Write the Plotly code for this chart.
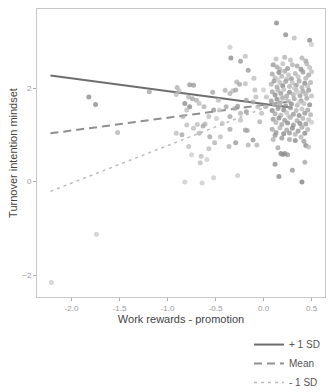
import plotly.graph_objects as go

# ---- data ----
# scatter points: x (work rewards - promotion), y (turnover intention), shade (moderator level, 0 light .. 1 dark)
pts = [
    (-2.21, -2.16, 0.2), (-1.74, -1.13, 0.2), (-1.82, 1.81, 0.7), (-1.75, 1.65, 0.7), (-1.52, 1.05, 0.4), (-1.19, 1.92, 0.5),
    (-0.90, 2.01, 0.4), (-0.88, 1.94, 0.3), (-0.91, 1.86, 0.3), (-0.77, 2.07, 0.6), (-0.73, 2.06, 0.6), (-0.82, 1.67, 0.7),
    (-0.78, 1.81, 0.4), (-0.74, 1.77, 0.5), (-0.70, 1.74, 0.4), (-0.77, 1.60, 0.7), (-0.80, 1.53, 0.3), (-0.67, 1.67, 0.3),
    (-0.62, 1.60, 0.4), (-0.53, 1.91, 0.5), (-0.52, 1.53, 0.6), (-0.47, 1.74, 0.3), (-0.40, 1.95, 0.4), (-0.35, 1.88, 0.4),
    (-0.32, 1.94, 0.3), (-0.29, 1.96, 0.5), (-0.25, 2.08, 0.5), (-0.19, 2.09, 0.3), (-0.09, 1.96, 0.3), (0.00, 1.96, 0.2),
    (-0.39, 1.60, 0.5), (-0.30, 1.56, 0.4), (-0.27, 1.61, 0.6), (-0.18, 1.74, 0.5), (-0.11, 1.70, 0.4), (-0.06, 1.60, 0.3),
    (-0.08, 1.81, 0.3), (-0.35, 1.39, 0.5), (-0.24, 1.46, 0.4), (-0.18, 1.49, 0.6), (-0.02, 1.46, 0.3), (-0.04, 1.28, 0.4),
    (-0.24, 1.31, 0.3), (-0.35, 1.12, 0.5), (-0.19, 1.10, 0.5), (-0.17, 1.09, 0.5), (-0.11, 0.89, 0.6), (-0.07, 0.78, 0.4),
    (-0.16, 0.78, 0.4), (-0.29, 0.83, 0.6), (-0.36, 0.75, 0.4), (-0.45, 0.96, 0.3), (-0.56, 0.96, 0.5), (-0.51, 0.83, 0.4),
    (-0.63, 1.19, 0.5), (-0.61, 1.23, 0.4), (-0.69, 1.22, 0.3), (-0.73, 1.14, 0.3), (-0.80, 1.21, 0.3), (-0.84, 1.39, 0.4),
    (-0.91, 1.03, 0.3), (-0.85, 1.00, 0.5), (-0.67, 1.03, 0.4), (-0.78, 0.75, 0.3), (-0.75, 0.57, 0.2), (-0.66, 0.40, 0.3),
    (-0.59, 0.47, 0.2), (-0.57, 0.70, 0.3), (-0.65, 0.54, 0.3), (-0.43, 1.24, 0.3), (-0.49, 1.35, 0.2), (-0.57, 1.39, 0.3),
    (-0.46, 1.53, 0.2), (-0.82, -0.01, 0.2), (-0.64, -0.03, 0.2), (-0.52, 0.08, 0.2), (-0.27, 0.13, 0.2),
    (-0.35, 2.87, 0.2), (-0.34, 2.64, 0.7), (-0.24, 2.57, 0.6), (-0.19, 2.68, 0.3), (-0.16, 2.38, 0.6), (-0.10, 2.21, 0.3),
    (-0.28, 2.13, 0.4), (0.03, 1.81, 0.3), (0.02, 1.60, 0.4),
    (0.135, 3.39, 0.7), (0.23, 3.14, 0.7), (0.32, 3.07, 0.3), (0.48, 3.02, 0.7), (0.50, 2.93, 0.2),
    (0.40, -0.01, 0.8), (0.16, 0.11, 0.7), (0.30, 0.24, 0.6), (0.12, 0.37, 0.7), (0.43, 0.41, 0.5), (0.18, 0.60, 0.7),
    (0.20, 0.58, 0.6), (0.22, 0.60, 0.7), (0.25, 0.57, 0.6), (0.44, 0.77, 0.7), (0.47, 0.74, 0.3), (0.15, 0.72, 0.5),
    (0.10, 0.90, 0.4), (0.12, 0.99, 0.6),
    (0.13, 2.62, 0.3), (0.22, 2.66, 0.4), (0.28, 2.60, 0.3), (0.40, 2.64, 0.4), (0.44, 2.58, 0.5),
    (0.10, 2.50, 0.6), (0.14, 2.45, 0.5), (0.20, 2.52, 0.3), (0.25, 2.42, 0.6), (0.30, 2.50, 0.4), (0.35, 2.47, 0.5),
    (0.39, 2.40, 0.7), (0.45, 2.52, 0.4), (0.48, 2.44, 0.3), (0.17, 2.40, 0.4),
    (0.09, 2.30, 0.5), (0.12, 2.22, 0.3), (0.16, 2.33, 0.7), (0.19, 2.25, 0.4), (0.22, 2.36, 0.5), (0.26, 2.28, 0.3),
    (0.29, 2.20, 0.6), (0.33, 2.31, 0.4), (0.36, 2.24, 0.3), (0.41, 2.34, 0.6), (0.44, 2.21, 0.4), (0.47, 2.28, 0.5),
    (0.50, 2.35, 0.3), (0.24, 2.18, 0.4),
    (0.08, 2.08, 0.4), (0.11, 2.15, 0.6), (0.14, 2.02, 0.5), (0.17, 2.12, 0.3), (0.20, 2.05, 0.7), (0.23, 2.14, 0.5),
    (0.27, 2.03, 0.4), (0.30, 2.11, 0.3), (0.34, 2.06, 0.6), (0.37, 2.15, 0.5), (0.40, 2.01, 0.4), (0.43, 2.10, 0.7),
    (0.46, 2.04, 0.3), (0.49, 2.12, 0.4), (0.15, 2.18, 0.2), (0.32, 2.00, 0.2),
    (0.09, 1.92, 0.5), (0.12, 1.85, 0.7), (0.15, 1.95, 0.4), (0.18, 1.88, 0.6), (0.21, 1.97, 0.3), (0.24, 1.83, 0.5),
    (0.27, 1.91, 0.7), (0.31, 1.86, 0.4), (0.34, 1.96, 0.3), (0.38, 1.84, 0.6), (0.41, 1.93, 0.5), (0.44, 1.87, 0.4),
    (0.47, 1.95, 0.6), (0.50, 1.83, 0.3), (0.19, 1.81, 0.2), (0.36, 1.90, 0.2),
    (0.08, 1.72, 0.6), (0.11, 1.65, 0.4), (0.14, 1.76, 0.7), (0.17, 1.68, 0.5), (0.20, 1.78, 0.4), (0.23, 1.62, 0.6),
    (0.26, 1.72, 0.3), (0.29, 1.66, 0.7), (0.32, 1.77, 0.5), (0.35, 1.63, 0.4), (0.39, 1.73, 0.6), (0.42, 1.67, 0.3),
    (0.45, 1.78, 0.5), (0.48, 1.64, 0.7), (0.16, 1.61, 0.3), (0.37, 1.69, 0.2),
    (0.09, 1.52, 0.7), (0.12, 1.45, 0.5), (0.15, 1.56, 0.6), (0.18, 1.42, 0.4), (0.21, 1.53, 0.7), (0.24, 1.47, 0.3),
    (0.28, 1.57, 0.5), (0.31, 1.44, 0.6), (0.34, 1.52, 0.4), (0.37, 1.41, 0.7), (0.40, 1.55, 0.3), (0.43, 1.46, 0.6),
    (0.46, 1.53, 0.5), (0.49, 1.43, 0.4), (0.26, 1.40, 0.2),
    (0.10, 1.33, 0.6), (0.13, 1.26, 0.4), (0.16, 1.36, 0.7), (0.19, 1.22, 0.5), (0.22, 1.31, 0.6), (0.25, 1.25, 0.7),
    (0.28, 1.37, 0.4), (0.31, 1.21, 0.6), (0.35, 1.30, 0.5), (0.38, 1.24, 0.7), (0.41, 1.35, 0.4), (0.44, 1.23, 0.6),
    (0.47, 1.32, 0.3), (0.50, 1.27, 0.2),
    (0.09, 1.12, 0.5), (0.13, 1.05, 0.6), (0.17, 1.15, 0.4), (0.21, 1.02, 0.7), (0.24, 1.10, 0.5), (0.27, 1.04, 0.6),
    (0.30, 1.14, 0.7), (0.33, 1.01, 0.4), (0.36, 1.08, 0.6), (0.40, 1.16, 0.5), (0.43, 1.03, 0.7), (0.46, 1.11, 0.4),
    (0.19, 0.93, 0.6), (0.27, 0.90, 0.5), (0.33, 0.88, 0.7), (0.39, 0.95, 0.4), (0.42, 0.86, 0.6),
]
x_vals = [p[0] for p in pts]
y_vals = [p[1] for p in pts]
shade = [p[2] for p in pts]

# simple slopes
line_x = [-2.22, 0.30]
plus1_y = [2.27, 1.58]
mean_y = [1.03, 1.72]
minus1_y = [-0.21, 1.81]
line_names = ["+ 1 SD", "Mean", "- 1 SD"]

x_ticks = [-2.0, -1.5, -1.0, -0.5, 0.0, 0.5]
x_tick_text = ["-2.0", "-1.5", "-1.0", "-0.5", "0.0", "0.5"]
y_ticks = [-2, 0, 2]

fig = go.Figure()

line_styles = [
    dict(color="#6e6e6e", width=2, dash="solid"),
    dict(color="#8f8f8f", width=2, dash="8px,5px"),
    dict(color="#bdbdbd", width=1.5, dash="3px,4px"),
]
for name, ys, st in zip(line_names, [plus1_y, mean_y, minus1_y], line_styles):
    fig.add_trace(go.Scatter(x=line_x, y=ys, mode="lines", name=name, line=st))

fig.add_trace(go.Scatter(
    x=x_vals, y=y_vals, mode="markers", showlegend=False,
    marker=dict(size=5, color=shade, cmin=0, cmax=1,
                colorscale=[[0, "#e2e2e2"], [1, "#5e5e5e"]], opacity=0.75,
                line=dict(width=0)),
))

axis_common = dict(
    showgrid=False, zeroline=False, showline=True, mirror=True, automargin=False,
    linecolor="#c8c8c8", linewidth=1, ticks="outside", ticklen=3,
    tickcolor="#aaaaaa", tickfont=dict(size=8, color="#999999"),
)
fig.update_xaxes(range=[-2.36, 0.64], tickvals=x_ticks, ticktext=x_tick_text,
                 title=dict(text="Work rewards - promotion", font=dict(size=11, color="#444444"), standoff=1),
                 **axis_common)
fig.update_yaxes(range=[-2.47, 3.69], tickvals=y_ticks,
                 title=dict(text="Turnover intention mindset", font=dict(size=11, color="#444444"), standoff=2),
                 **axis_common)

fig.update_layout(
    width=328, height=392,
    margin=dict(l=37, r=3, t=9, b=95, autoexpand=False),
    plot_bgcolor="white", paper_bgcolor="white",
    font=dict(family="Liberation Sans, Arial, sans-serif", color="#444444"),
    legend=dict(x=1.0, xanchor="right", y=0.158, yanchor="top", yref="container",
                font=dict(size=10, color="#555555"), tracegroupgap=0,
                bgcolor="rgba(0,0,0,0)"),
)

fig.write_html("out.html", config={"displayModeBar": False},
               post_script="document.body.style.margin='0';")
